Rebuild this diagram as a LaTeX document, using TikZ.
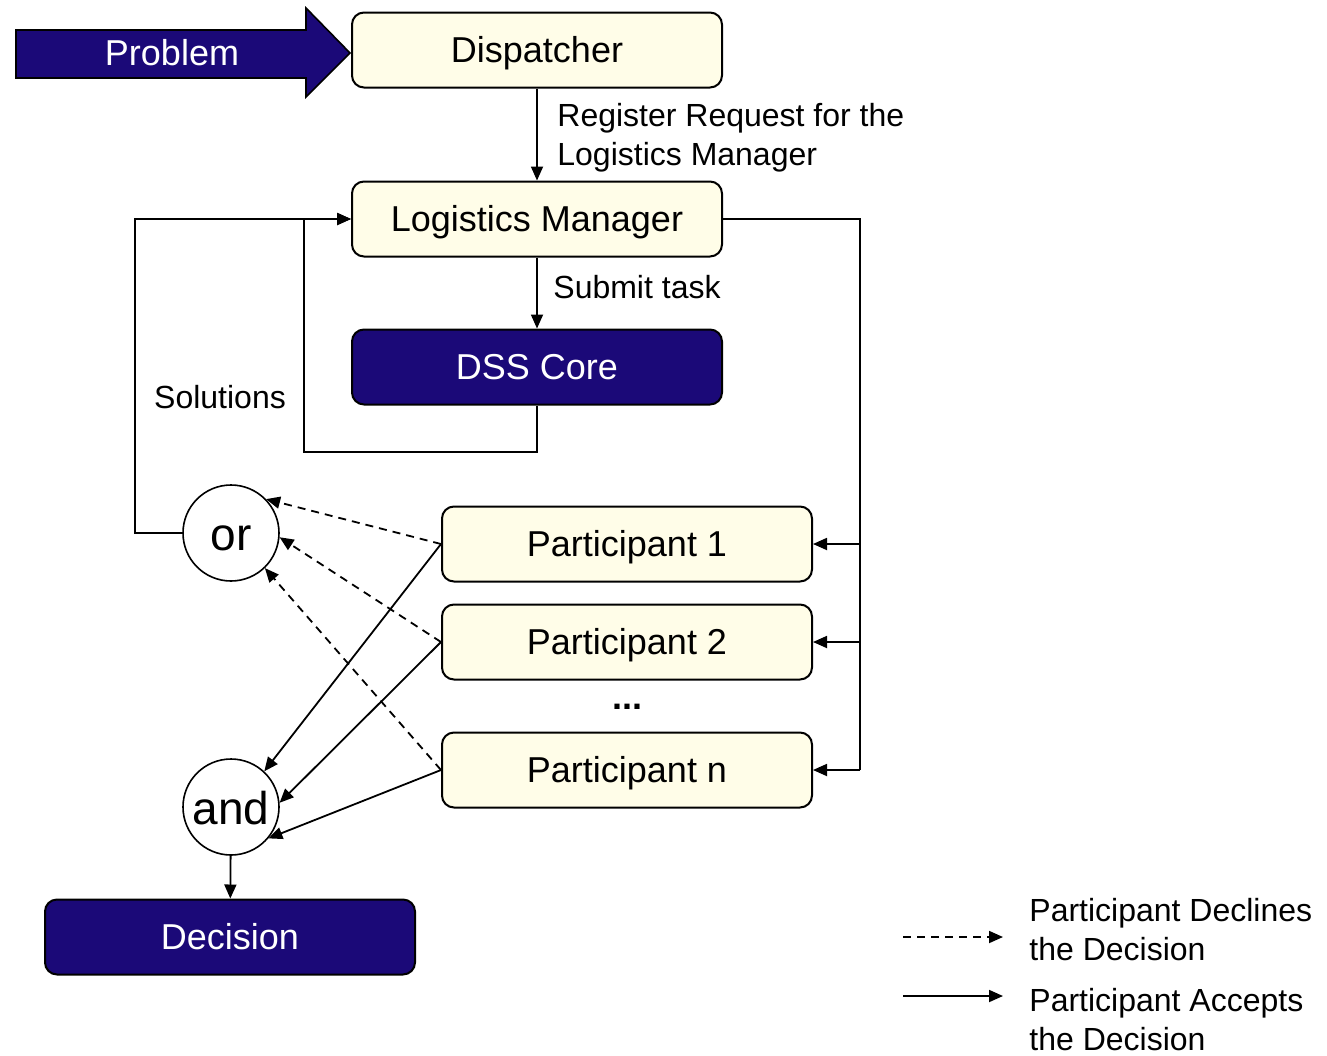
\documentclass[tikz,border=0pt]{standalone}
\usepackage{xcolor}
\usepackage{fontspec}
\setmainfont{Liberation Sans}
\usepackage{tikz}
\usetikzlibrary{arrows.meta}

\definecolor{navy}{RGB}{27,9,120}
\definecolor{cream}{RGB}{255,253,232}

\tikzset{
	box/.style   = {draw, rounded corners=6pt, line width=1pt, minimum width=185pt,
	                minimum height=37.5pt, inner sep=0pt, text height=13pt, text depth=0.5pt,
	                font=\fontsize{18}{21}\selectfont},
	lightbox/.style = {box, fill=cream},
	darkbox/.style  = {box, fill=navy, text=white},
	gate/.style  = {draw, circle, fill=white, line width=0.8pt, minimum size=48pt,
	                inner sep=0pt, text height=17pt, text depth=0pt,
	                font=\fontsize{23}{26}\selectfont},
	lbl/.style   = {anchor=west, align=left, inner sep=0pt,
	                font=\fontsize{16}{19.5}\selectfont},
	link/.style  = {line width=0.9pt, -{Triangle[length=7pt, width=6pt]}},
	decline/.style = {link, dash pattern=on 4pt off 3pt},
}

\begin{document}
\begin{tikzpicture}[x=0.5pt, y=-0.5pt]

\useasboundingbox (0,0) rectangle (1327,1055);

\draw[fill=navy, line width=0.8pt]
(16,30)--(306,30)--(306,8)--(350,53)--(306,97)--(306,78)--(16,78)--cycle;
\node[text=white, font=\fontsize{18}{21}\selectfont] (problem) at (172,53) {Problem};

\node[lightbox] (disp) at (537, 50) {Dispatcher};
\node[lightbox] (lm)   at (537,219) {Logistics Manager};
\node[darkbox]  (dss)  at (537,367) {DSS Core};

\node[lightbox] (p1) at (627,544) {Participant 1};
\node[lightbox] (p2) at (627,642) {Participant 2};
\node[lightbox] (pn) at (627,770) {Participant n};
\node[font=\fontsize{18}{21}\selectfont\bfseries] (dots) at (627,707) {...};

\node[gate] (or)  at (231,533) {or};
\node[gate] (and) at (231,807) {and};

\node[darkbox] (dec) at (230,937) {Decision};

\coordinate (fb)  at (304,452);
\coordinate (sol) at (135,533);
\coordinate (bus) at (860,219);

\draw[link] (disp) -- (lm);
\draw[link] (lm)   -- (dss);
\draw[link] (dss.south) |- (fb) |- (lm.west);
\draw[link] (or.west) -- (sol) |- (lm.west);

\draw[line width=0.9pt] (lm.east) -- (bus) -- (bus |- pn.east);
\foreach \p in {p1, p2, pn} {
	\draw[link] (bus |- \p.east) -- (\p.east);
}

\draw[decline] (p1.west) -- (or.44);
\draw[decline] (p2.west) -- (or.-5);
\draw[decline] (pn.west) -- (or.-46);

\draw[link] (p1.west) -- (and.47);
\draw[link] (p2.west) -- (and.5);
\draw[link] (pn.west) -- (and.-40);

\draw[link] (and) -- (dec);

\node[lbl] (reg)  at (557,138) {Register Request for the\\Logistics Manager};
\node[lbl] (sub)  at (553,287) {Submit task};
\node[lbl, anchor=center] (sols) at (220,397) {Solutions};

% legend
\coordinate (d1) at (903,937);  \coordinate (d2) at (1003,937);
\coordinate (a1) at (903,996);  \coordinate (a2) at (1003,996);
\draw[decline] (d1) -- (d2);
\draw[link]    (a1) -- (a2);
\node[lbl] (ldec) at (1029,930)  {Participant Declines\\the Decision};
\node[lbl] (lacc) at (1029,1020) {Participant Accepts\\the Decision};

\end{tikzpicture}
\end{document}
